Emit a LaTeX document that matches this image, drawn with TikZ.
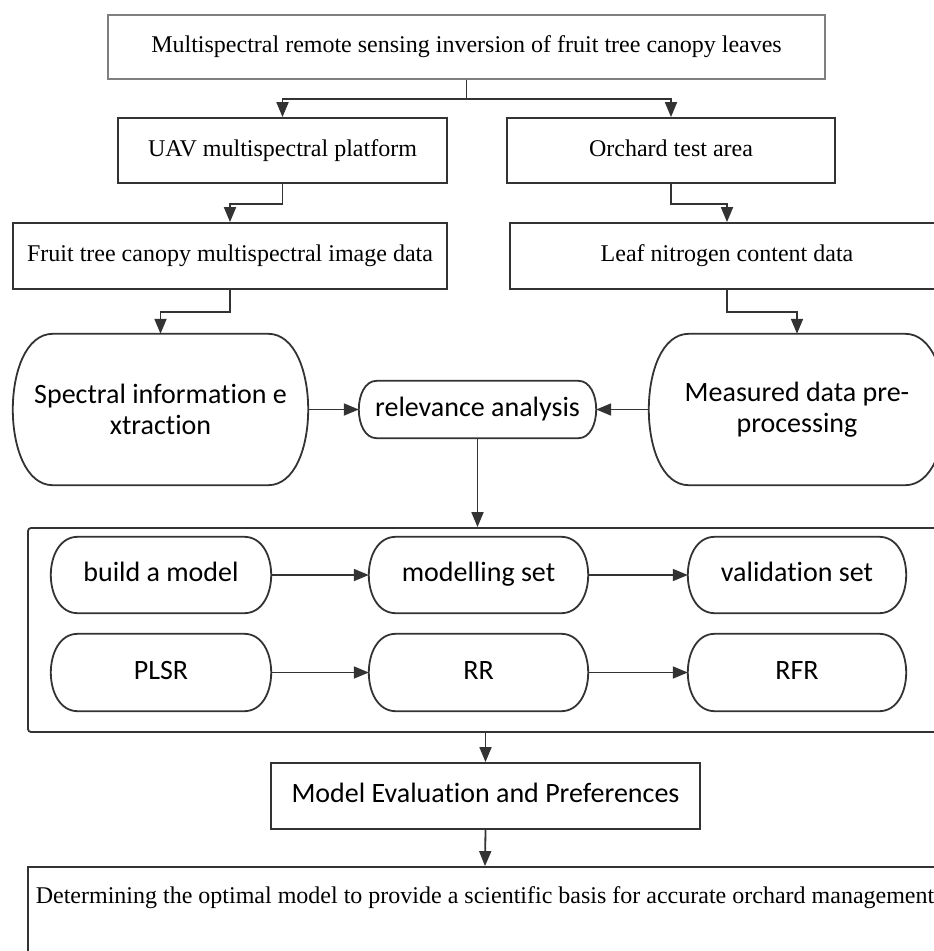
\documentclass[tikz,border=0pt]{standalone}
\usepackage{fontspec}
\setmainfont{Liberation Serif}
\newfontfamily\hfont[Ligatures={NoCommon}]{Carlito}
\usetikzlibrary{arrows.meta}

\definecolor{linegray}{HTML}{333333}
\definecolor{titlegray}{HTML}{7F7F7F}

\tikzset{
    boxline/.style={draw=linegray, line width=1.8pt},
    flow/.style={boxline, -{Triangle[length=15pt,width=12pt]}},
    textbox/.style={boxline, rectangle, inner sep=0pt, text height=16pt, text depth=5pt, font=\fontsize{24}{28}\selectfont},
    roundbox/.style={rectangle, inner sep=0pt, align=center, font=\hfont\fontsize{28}{31}\selectfont},
    oneline/.style={text height=19pt, text depth=6pt},
}

% outline with curved sides round node #1, sides bulge #2
\newcommand\capsule[2]{%
    \draw[boxline] ([xshift=#2pt]#1.north west) -- ([xshift=-#2pt]#1.north east)
        .. controls ([xshift=#2pt/3]#1.north east) and ([xshift=#2pt/3]#1.south east) .. ([xshift=-#2pt]#1.south east)
        -- ([xshift=#2pt]#1.south west)
        .. controls ([xshift=-#2pt/3]#1.south west) and ([xshift=-#2pt/3]#1.north west) .. cycle;
}

\begin{document}
\begin{tikzpicture}[x=1pt, y=-1pt]
        \useasboundingbox (0,0) rectangle (934,951);

        % data sources
        \node[textbox, draw=titlegray, minimum width=717pt, minimum height=64pt] (title) at (466.5,47) {Multispectral remote sensing inversion of fruit tree canopy leaves};
        \node[textbox, minimum width=329pt, minimum height=65pt] (uav) at (282.5,150.5) {UAV multispectral platform};
        \node[textbox, minimum width=328pt, minimum height=65pt] (orchard) at (671,150.5) {Orchard test area};
        \node[textbox, minimum width=434pt, minimum height=66pt] (imgdata) at (230,256) {Fruit tree canopy multispectral image data};
        \node[textbox, minimum width=434pt, minimum height=66pt] (leafdata) at (727,256) {Leaf nitrogen content data};

        \draw[flow] (title.south) -- ++(0,19) -| (uav.north);
        \draw[flow] (title.south) -- ++(0,19) -| (orchard.north);
        \draw[flow] (uav.south) -- ++(0,20) -| (imgdata.north);
        \draw[flow] (orchard.south) -- ++(0,20) -| (leafdata.north);

        % processing
        \node[roundbox, minimum width=295pt, minimum height=151pt] (spectral) at (160.5,409.5) {Spectral information e\\xtraction};
        \node[roundbox, minimum width=296pt, minimum height=151pt] (measured) at (797,409.5) {Measured data pre-\\processing};
        \node[roundbox, oneline, minimum width=237pt, minimum height=57pt] (relevance) at (477.5,409.5) {relevance analysis};
        \capsule{spectral}{40}
        \capsule{measured}{40}
        \capsule{relevance}{18}

        \draw[flow] (imgdata.south) -- ++(0,22) -| (spectral.north);
        \draw[flow] (leafdata.south) -- ++(0,22) -| (measured.north);
        \draw[flow] (spectral.east |- relevance.west) -- (relevance.west);
        \draw[flow] (measured.west |- relevance.east) -- (relevance.east);

        % models
        \node[boxline, rectangle, rounded corners=3pt, minimum width=912pt, minimum height=204pt] (modelframe) at (484,630) {};
        \node[roundbox, oneline, minimum width=220pt, minimum height=76pt] (build) at (161,575) {build a model};
        \node[roundbox, oneline, minimum width=219pt, minimum height=76pt] (modelling) at (478.5,575) {modelling set};
        \node[roundbox, oneline, minimum width=218pt, minimum height=76pt] (validation) at (797,575) {validation set};
        \node[roundbox, oneline, minimum width=220pt, minimum height=77pt] (plsr) at (161,672.5) {PLSR};
        \node[roundbox, oneline, minimum width=219pt, minimum height=77pt] (rr) at (478.5,672.5) {RR};
        \node[roundbox, oneline, minimum width=218pt, minimum height=77pt] (rfr) at (797,672.5) {RFR};
        \foreach \n in {build,modelling,validation,plsr,rr,rfr}
            {\capsule{\n}{27}}

        \draw[flow] (relevance.south) -- (relevance.south |- modelframe.north);
        \draw[flow] (build) -- (modelling);
        \draw[flow] (modelling) -- (validation);
        \draw[flow] (plsr) -- (rr);
        \draw[flow] (rr) -- (rfr);

        % evaluation
        \node[textbox, oneline, font=\hfont\fontsize{28}{31}\selectfont, minimum width=429pt, minimum height=66pt] (evaluation) at (485.5,796) {Model Evaluation and Preferences};
        \node[textbox, minimum width=914pt, minimum height=92pt, text height=16pt, text depth=36pt] (optimal) at (485,913) {Determining the optimal model to provide a scientific basis for accurate orchard management};

        \draw[flow] (evaluation.north |- modelframe.south) -- (evaluation.north);
        \draw[flow] (evaluation.south) -- (optimal.north);
\end{tikzpicture}
\end{document}
